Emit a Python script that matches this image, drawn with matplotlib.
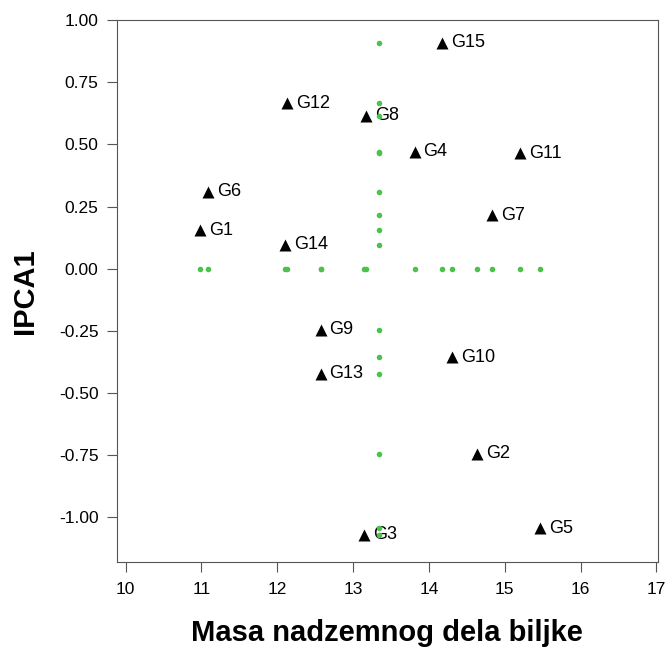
import numpy as np
import matplotlib
matplotlib.use('Agg')
from matplotlib import pyplot as plt

plt.rcParams['font.family'] = ['Liberation Sans', 'DejaVu Sans']

# genotype scores: above-ground plant mass vs. first interaction PC
genotypes = ['G1', 'G2', 'G3', 'G4', 'G5', 'G6', 'G7', 'G8',
             'G9', 'G10', 'G11', 'G12', 'G13', 'G14', 'G15']
mass  = [10.98, 14.64, 13.14, 13.81, 15.47, 11.09, 14.83, 13.17,
         12.57, 14.31, 15.20, 12.13, 12.57, 12.10, 14.17]
ipca1 = [0.155, -0.745, -1.07, 0.47, -1.045, 0.31, 0.215, 0.615,
         -0.245, -0.357, 0.465, 0.665, -0.422, 0.097, 0.91]

x_ticks = [10, 11, 12, 13, 14, 15, 16, 17]
y_ticks = [-1.00, -0.75, -0.50, -0.25, 0.00, 0.25, 0.50, 0.75, 1.00]

mass = np.array(mass)
ipca1 = np.array(ipca1)
grand_mean = mass.mean()

fig = plt.figure(figsize=(6.7, 6.53), dpi=100)
ax = fig.add_axes([0.174, 0.139, 0.808, 0.830])

green = '#4cc24c'
# projections onto the axes through the grand mean
ax.plot(mass, np.zeros_like(mass), 'o', color=green, ms=4, mec='none', zorder=2)
ax.plot(np.full_like(ipca1, grand_mean), ipca1, 'o', color=green, ms=4,
        mec='none', zorder=2)

ax.plot(mass, ipca1, '^', color='black', ms=8.5, mec='none', zorder=3)
for g, x, y in zip(genotypes, mass, ipca1):
  ax.annotate(g, (x, y), xytext=(6.5, 0), textcoords='offset points',
              va='center', ha='left', fontsize=13, zorder=1)

ax.set_xlim(9.88, 17.02)
ax.set_ylim(-1.181, 1.0)
ax.set_xticks(x_ticks)
ax.set_yticks(y_ticks)
ax.set_yticklabels(['%.2f' % v for v in y_ticks])

for s in ax.spines.values():
  s.set_color('#555555')
ax.tick_params(axis='both', colors='#555555', labelcolor='black',
               labelsize=12.5, length=7, direction='out')
ax.tick_params(axis='x', pad=7)
ax.tick_params(axis='y', pad=6)

ax.set_xlabel('Masa nadzemnog dela biljke', fontsize=21, fontweight='bold',
              labelpad=16)
ax.set_ylabel('IPCA1', fontsize=21, fontweight='bold', labelpad=14)

plt.savefig('out.png', dpi=100)
